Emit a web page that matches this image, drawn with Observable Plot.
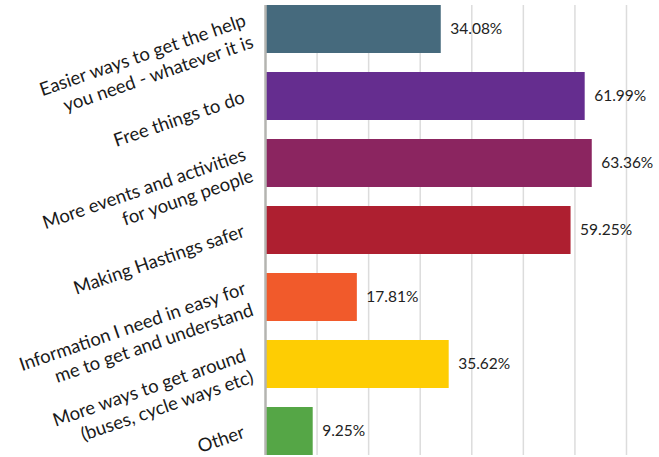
<!DOCTYPE html>
<html>
<head>
<meta charset="utf-8">
<script src="https://cdn.jsdelivr.net/npm/d3@7"></script>
<script src="https://cdn.jsdelivr.net/npm/@observablehq/plot@0.6"></script>
<style>
  html, body { margin: 0; padding: 0; background: #fff; }
  svg { display: block; }
</style>
</head>
<body>
<div id="chart"></div>
<script>
const categories = [
  "Easier ways to get the help\nyou need - whatever it is",
  "Free things to do",
  "More events and activities\nfor young people",
  "Making Hastings safer",
  "Information I need in easy for\nme to get and understand",
  "More ways to get around\n(buses, cycle ways etc)",
  "Other"
];
const values = [34.08, 61.99, 63.36, 59.25, 17.81, 35.62, 9.25];
const valueLabels = ["34.08%", "61.99%", "63.36%", "59.25%", "17.81%", "35.62%", "9.25%"];
const gridTicks = [10, 20, 30, 40, 50, 60, 70];
const palette = ["#466a7d", "#652d8f", "#8b2560", "#ae1f30", "#f15a2b", "#fecd03", "#55a646"];

const data = categories.map((c, i) => ({cat: c, value: values[i], label: valueLabels[i]}));
const twoLine = data.filter(d => d.cat.includes("\n"));
const oneLine = data.filter(d => !d.cat.includes("\n"));

const labelStyle = {textAnchor: "end", lineAnchor: "middle", rotate: -19, fill: "#1a1a1a", fontSize: 18.5, lineHeight: 1.23};

const chart = Plot.plot({
  width: 659,
  height: 457,
  marginLeft: 265,
  marginRight: 0,
  marginTop: 5,
  marginBottom: 2,
  style: {fontFamily: "Lato, sans-serif", background: "#fff"},
  x: {domain: [0, 76.4], axis: null},
  y: {domain: categories, paddingInner: 0.288, paddingOuter: 0, axis: null},
  color: {domain: categories, range: palette},
  marks: [
    Plot.ruleX(gridTicks, {stroke: "#dcdcdc", strokeWidth: 1.5}),
    Plot.barX(data, {x: "value", y: "cat", fill: "cat"}),
    Plot.ruleX([0], {stroke: "#b4b4b0", strokeWidth: 2.5}),
    Plot.text(data, {x: "value", y: "cat", text: "label", dx: 9, textAnchor: "start", fill: "#222", fontSize: 15.5}),
    Plot.text(twoLine, {x: () => 0, y: "cat", text: "cat", dx: -17, dy: 0, ...labelStyle}),
    Plot.text(oneLine, {x: () => 0, y: "cat", text: "cat", dx: -22, dy: -1, ...labelStyle})
  ]
});
document.getElementById("chart").appendChild(chart);
</script>
</body>
</html>
